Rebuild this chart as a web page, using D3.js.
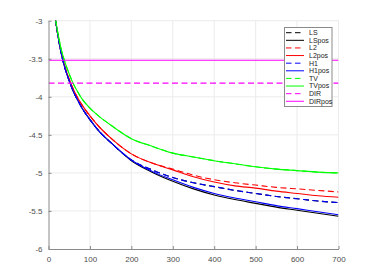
<!DOCTYPE html>
<html><head><meta charset="utf-8">
<script src="https://cdn.jsdelivr.net/npm/d3@7"></script>
<style>body{margin:0;background:#fff}svg{display:block}</style>
</head><body>
<svg id="c" width="374" height="280"></svg>
<script>
const xs      = [17, 20, 25, 30, 40, 50, 60, 70, 80, 100, 125, 150, 200, 250, 300, 350, 400, 450, 500, 550, 600, 650, 700];
const LS      = [-2.99,-3.10,-3.27,-3.41,-3.63,-3.79,-3.93,-4.04,-4.14,-4.30,-4.47,-4.60,-4.83,-4.96,-5.06,-5.13,-5.18,-5.23,-5.27,-5.31,-5.34,-5.37,-5.39];
const LSpos   = [-2.99,-3.10,-3.27,-3.41,-3.63,-3.79,-3.93,-4.04,-4.14,-4.30,-4.47,-4.60,-4.84,-4.99,-5.11,-5.21,-5.29,-5.35,-5.40,-5.45,-5.49,-5.53,-5.57];
const L2      = [-2.99,-3.10,-3.26,-3.40,-3.61,-3.77,-3.90,-4.01,-4.10,-4.25,-4.41,-4.54,-4.75,-4.87,-4.95,-5.03,-5.09,-5.13,-5.16,-5.19,-5.21,-5.23,-5.25];
const L2pos   = [-2.99,-3.10,-3.26,-3.40,-3.61,-3.77,-3.90,-4.01,-4.10,-4.25,-4.41,-4.54,-4.75,-4.87,-4.96,-5.05,-5.12,-5.17,-5.20,-5.24,-5.27,-5.30,-5.32];
const H1      = [-2.99,-3.10,-3.27,-3.41,-3.63,-3.79,-3.93,-4.04,-4.14,-4.30,-4.47,-4.60,-4.83,-4.96,-5.06,-5.13,-5.18,-5.23,-5.27,-5.31,-5.34,-5.37,-5.39];
const H1pos   = [-2.99,-3.10,-3.27,-3.41,-3.63,-3.79,-3.93,-4.04,-4.14,-4.30,-4.47,-4.60,-4.83,-4.98,-5.09,-5.19,-5.27,-5.33,-5.38,-5.43,-5.47,-5.51,-5.55];
const TV      = [-2.98,-3.08,-3.23,-3.36,-3.55,-3.70,-3.83,-3.93,-4.02,-4.15,-4.27,-4.37,-4.55,-4.65,-4.74,-4.79,-4.84,-4.88,-4.92,-4.95,-4.97,-4.99,-5.00];
const TVpos   = [-2.98,-3.08,-3.23,-3.36,-3.55,-3.70,-3.83,-3.93,-4.02,-4.15,-4.27,-4.37,-4.55,-4.65,-4.74,-4.79,-4.84,-4.88,-4.92,-4.95,-4.97,-4.99,-5.00];
const DIRx    = [0, 700];
const DIR     = [-3.82, -3.82];
const DIRpos  = [-3.52, -3.52];
const xTicks  = [0, 100, 200, 300, 400, 500, 600, 700];
const yTicks  = [-3, -3.5, -4, -4.5, -5, -5.5, -6];
const names   = ["LS","LSpos","L2","L2pos","H1","H1pos","TV","TVpos","DIR","DIRpos"];

const series = [
  {name:"LS", x:xs, y:LS, color:"#000000", dash:true},
  {name:"LSpos", x:xs, y:LSpos, color:"#000000", dash:false},
  {name:"L2", x:xs, y:L2, color:"#ff0000", dash:true},
  {name:"L2pos", x:xs, y:L2pos, color:"#ff0000", dash:false},
  {name:"H1", x:xs, y:H1, color:"#0000ff", dash:true},
  {name:"H1pos", x:xs, y:H1pos, color:"#0000ff", dash:false},
  {name:"TV", x:xs, y:TV, color:"#00ff00", dash:true},
  {name:"TVpos", x:xs, y:TVpos, color:"#00ff00", dash:false},
  {name:"DIR", x:DIRx, y:DIR, color:"#ff00ff", dash:true},
  {name:"DIRpos", x:DIRx, y:DIRpos, color:"#ff00ff", dash:false}
];

const svg = d3.select("#c");
const L = 48.5, R = 338.5, T = 20.7, B = 249;
const x = d3.scaleLinear().domain([0,700]).range([L,R]);
const y = d3.scaleLinear().domain([-6,-3]).range([B,T]);
const font = "'Liberation Sans', Arial, sans-serif";

// grid
const g = svg.append("g");
g.selectAll("line.vx").data(xTicks.slice(1)).enter().append("line")
  .attr("x1", d=>x(d)).attr("x2", d=>x(d)).attr("y1", T).attr("y2", B)
  .attr("stroke", "#ebebeb").attr("stroke-width", 1);
g.selectAll("line.hy").data(yTicks.slice(0,-1)).enter().append("line")
  .attr("x1", L).attr("x2", R).attr("y1", d=>y(d)).attr("y2", d=>y(d))
  .attr("stroke", "#ebebeb").attr("stroke-width", 1);

// clip
svg.append("clipPath").attr("id","clip").append("rect")
  .attr("x", L).attr("y", T).attr("width", R-L).attr("height", B-T);

const line = d3.line().curve(d3.curveMonotoneX);
const plot = svg.append("g").attr("clip-path","url(#clip)");
series.forEach(s => {
  const pts = s.x.map((xv,i) => [x(xv), y(s.y[i])]);
  plot.append("path").attr("d", line(pts)).attr("fill","none")
    .attr("stroke", s.color).attr("stroke-width", 1.1)
    .attr("stroke-dasharray", s.dash ? "6,3.5" : null);
});

// axes
const xAxis = d3.axisBottom(x).tickValues(xTicks).tickSizeInner(-3).tickSizeOuter(0).tickPadding(7).tickFormat(d3.format("d"));
const yAxis = d3.axisLeft(y).tickValues(yTicks).tickSizeInner(-3).tickSizeOuter(0).tickPadding(6).tickFormat(d => String(d));
const gx = svg.append("g").attr("transform", `translate(0,${B})`).call(xAxis);
const gy = svg.append("g").attr("transform", `translate(${L},0)`).call(yAxis);
[gx, gy].forEach(a => {
  a.select(".domain").attr("stroke", "#8a8a8a");
  a.selectAll(".tick line").attr("stroke", "#8a8a8a");
  a.selectAll("text").attr("fill", "#4d4d4d").style("font-family", font).style("font-size", "8px");
});

// legend
const lx = 284.5, ly = 27.5, lw = 47.5, lh = 79;
const lg = svg.append("g");
lg.append("rect").attr("x", lx).attr("y", ly).attr("width", lw).attr("height", lh)
  .attr("fill", "#fff").attr("stroke", "#8a8a8a").attr("stroke-width", 1);
series.forEach((s, i) => {
  const yy = 32.7 + i * 7.62;
  lg.append("line").attr("x1", 286).attr("x2", 304).attr("y1", yy).attr("y2", yy)
    .attr("stroke", s.color).attr("stroke-width", 1)
    .attr("stroke-dasharray", s.dash ? "5.5,3.5" : null);
  lg.append("text").attr("x", 309).attr("y", yy + 2.4).text(names[i])
    .style("font-family", font).style("font-size", "7px").attr("fill", "#222");
});
</script>
</body></html>
